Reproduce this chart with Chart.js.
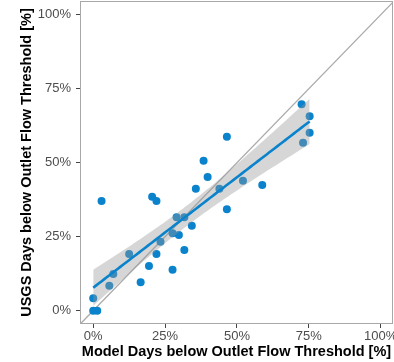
<!DOCTYPE html>
<html>
<head>
<meta charset="utf-8">
<script src="https://cdn.jsdelivr.net/npm/chart.js@4/dist/chart.umd.min.js"></script>
<style>
html,body{margin:0;padding:0;background:#fff;}
#c{display:block;}
</style>
</head>
<body>
<canvas id="c" width="394" height="362"></canvas>
<script>
// Model days below outlet flow threshold [%]
const modelPct = [0,1.4,0,5.6,7.0,2.9,12.5,16.5,19.4,20.5,22.0,22.0,23.4,27.6,27.6,29.0,29.8,31.7,31.7,34.3,35.7,38.4,39.8,43.9,46.5,46.5,52.1,58.8,72.5,75.3,75.3,73.0];
// USGS days below outlet flow threshold [%]
const usgsPct = [0,0,4.2,8.4,12.4,37.1,19.2,9.6,15.1,38.5,37.1,19.2,23.3,13.8,26.2,31.6,25.6,31.6,20.5,28.7,41.2,50.7,45.2,41.2,58.8,34.3,43.9,42.5,69.8,65.7,60.2,56.8];
const tickValues = [0,25,50,75,100];
const xTitle = 'Model Days below Outlet Flow Threshold [%]';
const yTitle = 'USGS Days below Outlet Flow Threshold [%]';

// linear model fit (like geom_smooth(method = "lm")) with 95% confidence band
const n = modelPct.length;
const mx = modelPct.reduce((a,b)=>a+b,0)/n;
const my = usgsPct.reduce((a,b)=>a+b,0)/n;
let sxx=0, sxy=0;
for(let i=0;i<n;i++){sxx+=(modelPct[i]-mx)**2; sxy+=(modelPct[i]-mx)*(usgsPct[i]-my);}
const slope = sxy/sxx, icpt = my - slope*mx;
let sse=0;
for(let i=0;i<n;i++){sse+=(usgsPct[i]-(icpt+slope*modelPct[i]))**2;}
const s = Math.sqrt(sse/(n-2));
const tcrit = 2.042;
const xmin = Math.min(...modelPct), xmax = Math.max(...modelPct);
const fit=[], upper=[], lower=[];
for(let k=0;k<=80;k++){
  const x = xmin + (xmax-xmin)*k/80;
  const yh = icpt + slope*x;
  const se = s*Math.sqrt(1/n + (x-mx)**2/sxx);
  fit.push({x, y:yh}); upper.push({x, y:yh+tcrit*se}); lower.push({x, y:yh-tcrit*se});
}
const pts = modelPct.map((x,i)=>({x, y:usgsPct[i]}));

const FONT = '"Liberation Sans", Arial, sans-serif';
const borderPlugin = {
  id:'panelBorder',
  afterDatasetsDraw(chart){
    const a = chart.chartArea, ctx = chart.ctx;
    ctx.save();
    ctx.strokeStyle = '#a8a8a8';
    ctx.lineWidth = 1;
    ctx.strokeRect(Math.round(a.left)+0.5, Math.round(a.top)+0.5, Math.round(a.right-a.left)-1, Math.round(a.bottom-a.top)-1);
    ctx.restore();
  }
};

new Chart(document.getElementById('c'), {
  type:'line',
  data:{
    datasets:[
      {label:'identity', data:[{x:-10,y:-10},{x:110,y:110}], borderColor:'#ababab', borderWidth:1.3, pointRadius:0, fill:false, order:4},
      {label:'obs', data:pts, showLine:false, pointRadius:4, pointHoverRadius:4, pointBackgroundColor:'#0a83cc', pointBorderWidth:0, borderWidth:0, order:3},
      {label:'upper', data:upper, borderWidth:0, borderColor:'rgba(0,0,0,0)', pointRadius:0, fill:'+1', backgroundColor:'rgba(153,153,153,0.4)', order:2},
      {label:'lower', data:lower, borderWidth:0, borderColor:'rgba(0,0,0,0)', pointRadius:0, fill:false, order:2},
      {label:'fit', data:fit, borderColor:'#0a83cc', borderWidth:2.6, pointRadius:0, fill:false, order:1}
    ]
  },
  options:{
    responsive:false,
    devicePixelRatio:1,
    animation:false,
    events:[],
    layout:{autoPadding:false, padding:{left:13, top:1, right:1, bottom:0}},
    plugins:{legend:{display:false}, tooltip:{enabled:false}},
    scales:{
      x:{
        type:'linear', min:-4.6, max:104.3,
        afterBuildTicks(sc){ sc.ticks = tickValues.map(v=>({value:v})); },
        afterFit(sc){ sc.height = 38; sc.paddingLeft = 0; sc.paddingRight = 0; },
        border:{display:false},
        grid:{drawOnChartArea:false, drawTicks:true, tickLength:4, color:'#444', lineWidth:1},
        ticks:{callback:v=>v+'%', color:'#4d4d4d', font:{family:FONT, size:13}, padding:1, maxRotation:0, autoSkip:false},
        title:{display:true, text:xTitle, color:'#000', font:{family:FONT, size:14.5, weight:'bold'}, padding:{top:0,bottom:1}}
      },
      y:{
        type:'linear', min:-4.5, max:104.7,
        afterBuildTicks(sc){ sc.ticks = tickValues.map(v=>({value:v})); },
        afterFit(sc){ sc.width = 67; sc.paddingTop = 0; sc.paddingBottom = 0; },
        border:{display:false},
        grid:{drawOnChartArea:false, drawTicks:true, tickLength:4, color:'#444', lineWidth:1},
        ticks:{callback:v=>v+'%', color:'#4d4d4d', font:{family:FONT, size:13}, padding:5, autoSkip:false},
        title:{display:true, text:yTitle, color:'#000', font:{family:FONT, size:14.5, weight:'bold'}, padding:{top:5,bottom:0}}
      }
    }
  },
  plugins:[borderPlugin]
});
</script>
</body>
</html>
